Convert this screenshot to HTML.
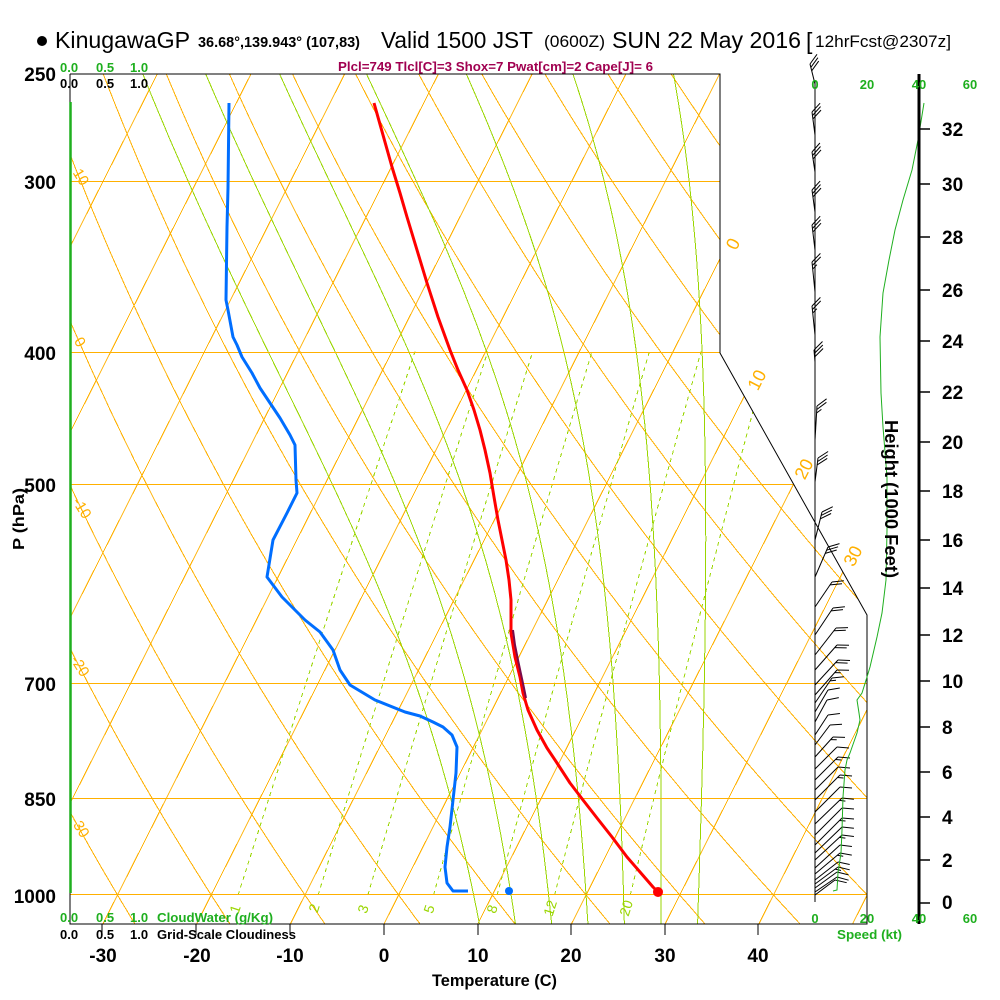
<!DOCTYPE html>
<html>
<head>
<meta charset="utf-8">
<style>
html,body{margin:0;padding:0;background:#fff;}
svg{display:block;}
text{font-family:"Liberation Sans",Arial,Helvetica,sans-serif;}
</style>
</head>
<body>
<svg id="s" xmlns="http://www.w3.org/2000/svg" width="1000" height="1000" viewBox="0 0 1000 1000">
<rect x="0" y="0" width="1000" height="1000" fill="#fff"/>
<defs>
<clipPath id="cp"><polygon points="70,74 720,74 720,353 867,615 867,924 70,924"/></clipPath>
</defs>
<g id="bg" clip-path="url(#cp)" shape-rendering="crispEdges"></g>
<g clip-path="url(#cp)" fill="#FFB000" shape-rendering="crispEdges">
<rect x="60" y="181" width="820" height="1"/>
<rect x="60" y="352" width="820" height="1"/>
<rect x="60" y="484" width="820" height="1"/>
<rect x="60" y="683" width="820" height="1"/>
<rect x="60" y="798" width="820" height="1"/>
<rect x="60" y="894" width="820" height="1"/>
</g>

<!-- border -->
<polyline points="70,74 720,74 720,353 867,615 867,924 70,924 70,74" fill="none" stroke="#000" stroke-width="1"/>
<!-- temperature ticks -->
<g stroke="#000" stroke-width="1">
<line x1="102" y1="924" x2="102" y2="935"/>
<line x1="196" y1="924" x2="196" y2="935"/>
<line x1="290" y1="924" x2="290" y2="935"/>
<line x1="384" y1="924" x2="384" y2="935"/>
<line x1="478" y1="924" x2="478" y2="935"/>
<line x1="571" y1="924" x2="571" y2="935"/>
<line x1="665" y1="924" x2="665" y2="935"/>
<line x1="758" y1="924" x2="758" y2="935"/>
</g>

<!-- cloud water line -->
<line x1="70.5" y1="102" x2="70.5" y2="893" stroke="#1FAF1F" stroke-width="2.5"/>

<!-- wind axis -->
<line x1="815" y1="80" x2="815" y2="902" stroke="#000" stroke-width="1"/>
<g id="barbs" stroke="#000" stroke-width="1" fill="none"></g>

<!-- speed profile -->
<polyline fill="none" stroke="#1FAF1F" stroke-width="1" points="924,103 918,140 912,170 903,200 895,230 889,260 883,293 880,337 881,393 883,427 887,477 887,530 886,580 882,613 877,637 870,667 867,677 862,693 857,700 859,713 860,720 857,733 850,753 847,760 845,770 843,797 842,830 841,853 838,873 837,890 833,891"/>

<!-- height axis -->
<line x1="919" y1="74" x2="919" y2="924" stroke="#000" stroke-width="3"/>
<g stroke="#000" stroke-width="1.5">
<line x1="919" y1="129" x2="930" y2="129"/>
<line x1="919" y1="184" x2="930" y2="184"/>
<line x1="919" y1="237" x2="930" y2="237"/>
<line x1="919" y1="290" x2="930" y2="290"/>
<line x1="919" y1="341" x2="930" y2="341"/>
<line x1="919" y1="392" x2="930" y2="392"/>
<line x1="919" y1="442" x2="930" y2="442"/>
<line x1="919" y1="491" x2="930" y2="491"/>
<line x1="919" y1="540" x2="930" y2="540"/>
<line x1="919" y1="588" x2="930" y2="588"/>
<line x1="919" y1="635" x2="930" y2="635"/>
<line x1="919" y1="681" x2="930" y2="681"/>
<line x1="919" y1="727" x2="930" y2="727"/>
<line x1="919" y1="772" x2="930" y2="772"/>
<line x1="919" y1="817" x2="930" y2="817"/>
<line x1="919" y1="860" x2="930" y2="860"/>
<line x1="919" y1="903" x2="930" y2="903"/>
</g>
<g font-size="19" font-weight="bold" fill="#000">
<text x="942" y="136">32</text>
<text x="942" y="191">30</text>
<text x="942" y="244">28</text>
<text x="942" y="297">26</text>
<text x="942" y="348">24</text>
<text x="942" y="399">22</text>
<text x="942" y="449">20</text>
<text x="942" y="498">18</text>
<text x="942" y="547">16</text>
<text x="942" y="595">14</text>
<text x="942" y="642">12</text>
<text x="942" y="688">10</text>
<text x="942" y="734">8</text>
<text x="942" y="779">6</text>
<text x="942" y="824">4</text>
<text x="942" y="867">2</text>
<text x="942" y="909">0</text>
</g>
<text transform="translate(885,499) rotate(90)" text-anchor="middle" font-size="18" font-weight="bold" textLength="158" lengthAdjust="spacingAndGlyphs" fill="#000">Height (1000 Feet)</text>

<!-- dewpoint -->
<polyline fill="none" stroke="#006EFF" stroke-width="3" stroke-linejoin="round" points="229,103 228,188 227,227 226,300 228,310 233,337 237,345 242,357 252,373 260,388 270,403 280,418 290,435 295,445 296,480 297,493 287,513 273,540 267,577 282,597 295,610 305,620 320,632 333,650 340,670 350,685 375,700 405,712 420,716 433,722 443,727 452,735 457,747 456,773 453,800 450,827 447,847 445,867 447,883 453,891 468,891"/>
<!-- temperature -->
<polyline fill="none" stroke="#FF0000" stroke-width="3" stroke-linejoin="round" points="374,103 383,135 392,167 400,193 407,217 417,250 427,283 438,317 450,350 458,370 467,390 474,410 480,430 485,450 490,473 494,497 498,520 502,540 506,560 509,580 511,600 511,620 511,633 515,657 520,677 523,693 528,710 537,730 547,748 557,763 570,783 583,800 597,818 612,837 627,857 640,872 653,887 658,892"/>
<polyline fill="none" stroke="#7A0A4A" stroke-width="2" points="513,630 515,645 518,660 521,674 524,688 526,698"/>
<circle cx="658" cy="892" r="5" fill="#FF0000"/>
<circle cx="509" cy="891" r="4" fill="#006EFF"/>

<!-- title -->
<circle cx="42" cy="41" r="5" fill="#000"/>
<text x="55" y="48" font-size="23" textLength="135" lengthAdjust="spacingAndGlyphs">KinugawaGP</text>
<text x="198" y="47" font-size="15" font-weight="bold" textLength="162" lengthAdjust="spacingAndGlyphs">36.68°,139.943° (107,83)</text>
<text x="381" y="48" font-size="23" textLength="152" lengthAdjust="spacingAndGlyphs">Valid 1500 JST</text>
<text x="544" y="47" font-size="17" textLength="61" lengthAdjust="spacingAndGlyphs">(0600Z)</text>
<text x="612" y="48" font-size="23" textLength="189" lengthAdjust="spacingAndGlyphs">SUN 22 May 2016</text>
<text x="806" y="49" font-size="23">[</text>
<text x="815" y="47" font-size="17" textLength="136" lengthAdjust="spacingAndGlyphs">12hrFcst@2307z]</text>

<text x="338" y="71" font-size="13" font-weight="bold" fill="#A00050" textLength="315" lengthAdjust="spacingAndGlyphs">Plcl=749 Tlcl[C]=3 Shox=7 Pwat[cm]=2 Cape[J]= 6</text>

<!-- cloud labels -->
<g font-size="13" font-weight="bold" fill="#1FAF1F">
<text x="60" y="72">0.0</text><text x="96" y="72">0.5</text><text x="130" y="72">1.0</text>
<text x="60" y="922">0.0</text><text x="96" y="922">0.5</text><text x="130" y="922">1.0</text>
<text x="157" y="922" textLength="116" lengthAdjust="spacingAndGlyphs">CloudWater (g/Kg)</text>
</g>
<g font-size="13" font-weight="bold" fill="#000">
<text x="60" y="88">0.0</text><text x="96" y="88">0.5</text><text x="130" y="88">1.0</text>
<text x="60" y="939">0.0</text><text x="96" y="939">0.5</text><text x="130" y="939">1.0</text>
<text x="157" y="939" textLength="139" lengthAdjust="spacingAndGlyphs">Grid-Scale Cloudiness</text>
</g>

<!-- speed labels -->
<g font-size="13" font-weight="bold" fill="#1FAF1F" text-anchor="middle">
<text x="815" y="89">0</text><text x="867" y="89">20</text><text x="919" y="89">40</text><text x="970" y="89">60</text>
<text x="815" y="923">0</text><text x="867" y="923">20</text><text x="919" y="923">40</text><text x="970" y="923">60</text>
</g>
<text x="837" y="939" font-size="13" font-weight="bold" fill="#1FAF1F" textLength="65" lengthAdjust="spacingAndGlyphs">Speed (kt)</text>

<!-- pressure labels -->
<g font-size="19" font-weight="bold" fill="#000" text-anchor="end">
<text x="56" y="81">250</text>
<text x="56" y="189">300</text>
<text x="56" y="360">400</text>
<text x="56" y="492">500</text>
<text x="56" y="691">700</text>
<text x="56" y="806">850</text>
<text x="56" y="903">1000</text>
</g>
<text transform="translate(24,519) rotate(-90)" text-anchor="middle" font-size="16" font-weight="bold" textLength="62" lengthAdjust="spacingAndGlyphs">P (hPa)</text>

<!-- temperature labels -->
<g font-size="19" font-weight="bold" fill="#000" text-anchor="middle">
<text x="103" y="962">-30</text>
<text x="197" y="962">-20</text>
<text x="290" y="962">-10</text>
<text x="384" y="962">0</text>
<text x="478" y="962">10</text>
<text x="571" y="962">20</text>
<text x="665" y="962">30</text>
<text x="758" y="962">40</text>
</g>
<text x="432" y="986" font-size="17" font-weight="bold" textLength="125" lengthAdjust="spacingAndGlyphs">Temperature (C)</text>

<!-- isotherm labels -->
<g font-size="18" fill="#FFB000" text-anchor="middle">
<text transform="translate(733,244) rotate(-63)" dy="6">0</text>
<text transform="translate(757,380) rotate(-63)" dy="6">10</text>
<text transform="translate(804,469) rotate(-63)" dy="6">20</text>
<text transform="translate(853,556) rotate(-63)" dy="6">30</text>
</g>
<!-- dry adiabat labels -->
<g font-size="15" fill="#FFB000" text-anchor="middle">
<text transform="translate(81,177) rotate(58)" dy="5">10</text>
<text transform="translate(80,342) rotate(58)" dy="5">0</text>
<text transform="translate(82,508) rotate(58)" dy="5">-10</text>
<text transform="translate(80,666) rotate(58)" dy="5">-20</text>
<text transform="translate(80,827) rotate(58)" dy="5">-30</text>
</g>
<!-- mixing ratio labels -->
<g font-size="14" fill="#9AD600" text-anchor="middle">
<text transform="translate(235,909) rotate(-72)" dy="5">1</text>
<text transform="translate(314,908) rotate(-72)" dy="5">2</text>
<text transform="translate(363,909) rotate(-72)" dy="5">3</text>
<text transform="translate(429,909) rotate(-72)" dy="5">5</text>
<text transform="translate(492,909) rotate(-72)" dy="5">8</text>
<text transform="translate(550,908) rotate(-72)" dy="5">12</text>
<text transform="translate(626,908) rotate(-72)" dy="5">20</text>
</g>
</svg>
<script>
(function(){
var NS="http://www.w3.org/2000/svg";
var bg=document.getElementById('bg');
function Y(p){return 895-593.0*Math.log(1000/p);}
function X(T,y){return 384+9.371*T+0.505*(924-y);}
function pl(pts,stroke,w,dash,parent){var e=document.createElementNS(NS,'polyline');
 e.setAttribute('points',pts.map(function(q){return q[0].toFixed(1)+','+q[1].toFixed(1);}).join(' '));
 e.setAttribute('fill','none');e.setAttribute('stroke',stroke);e.setAttribute('stroke-width',w);
 if(dash)e.setAttribute('stroke-dasharray',dash);(parent||bg).appendChild(e);}
var OR='#FFB000',GR='#9AD600';
var T,p,th;
for(T=-130;T<=60;T+=10){pl([[X(T,930),930],[X(T,68),68]],OR,1);}
for(th=-30;th<=170;th+=10){var pts=[];for(p=1060;p>=245;p-=5){var y=Y(p);var t=(th+273.15)*Math.pow(p/1000,0.2857)-273.15;pts.push([X(t,y),y]);}pl(pts,OR,1);}
function dTdp(T,p){var Rd=287.04,cp=1005.7,L=2.501e6,eps=0.622;var Tc=T-273.15;var e=6.112*Math.exp(17.67*Tc/(Tc+243.5));var rs=eps*e/(p-e);
 return ((Rd*T+L*rs)/p)/(cp+L*L*rs*eps/(Rd*T*T));}
function rk(T,p,h){var k1=dTdp(T,p),k2=dTdp(T+h*k1/2,p+h/2),k3=dTdp(T+h*k2/2,p+h/2),k4=dTdp(T+h*k3,p+h);return T+h*(k1+2*k2+2*k3+k4)/6;}
[8,12,16,20,24,28,32].forEach(function(tw){var T=tw+273.15,p=1000;while(p<1052){T=rk(T,p,2);p+=2;}
 var pts=[];var i=0;while(p>=246){if(i%3==0){var y=Y(p);pts.push([X(T-273.15,y),y]);}T=rk(T,p,-2);p-=2;i++;}
 var y2=Y(p);pts.push([X(T-273.15,y2),y2]);pl(pts,GR,1);});
[1,2,3,5,8,12,20].forEach(function(w){var pts=[];for(var p=1000;p>=400;p-=10){var e=w*p/(622+w);var l=Math.log(e/6.112);var Td=243.5*l/(17.67-l);var y=Y(p);pts.push([X(Td,y),y]);}pl(pts,GR,1,'4,4');});
// barbs
var bb=document.getElementById('barbs');
var B=[[810,64,84,3],[812,112,135,3],[812,152,172,3],[812,190,212,3],[812,225,250,3],[812,262,292,2.5],[812,306,335,2.5],[814,350,362,3],[817,406,440,2.5],[818,458,482,3],
[822,512,540,3],[828,547,577,3],[832,582,607,2],[833,608,635,2],[836,628,655,2],[837,645,670,2],[838,660,685,2],[837,670,695,1.5],[832,678,703,1.5],[828,690,712,1],[827,700,722,1],[828,715,735,1],[830,725,745,1],[833,737,757,1.5],[837,747,769,1],[838,757,780,1.5],[838,767,790,1],[840,775,800,1.5],[840,787,812,1],[842,798,824,1.5],[842,808,835,1],[842,818,845,1.5],[842,827,853,1],[842,835,860,1.5],[840,845,868,1],[840,853,874,1.5],[838,862,880,1],[838,867,884,1.5],[837,872,888,1],[837,877,892,1],[835,880,895,1]];
B.forEach(function(b){var tx=b[0],ty=b[1],by=b[2],n=b[3];var dx=tx-815,dy=ty-by;var L=Math.sqrt(dx*dx+dy*dy);var ux=dx/L,uy=dy/L;
 pl([[815,by],[tx,ty]],'#000',1,null,bb);
 var a=Math.atan2(uy,ux)+50*Math.PI/180;var vx=Math.cos(a),vy=Math.sin(a);
 var full=Math.floor(n),half=(n-full)>0;
 for(var k=0;k<full;k++){var sx=tx-ux*k*3.5,sy=ty-uy*k*3.5;pl([[sx,sy],[sx+vx*12,sy+vy*12]],'#000',1,null,bb);}
 if(half){var k2=full;var sx2=tx-ux*k2*3.5,sy2=ty-uy*k2*3.5;pl([[sx2,sy2],[sx2+vx*6,sy2+vy*6]],'#000',1,null,bb);}
});
})();
</script>
</body>
</html>
